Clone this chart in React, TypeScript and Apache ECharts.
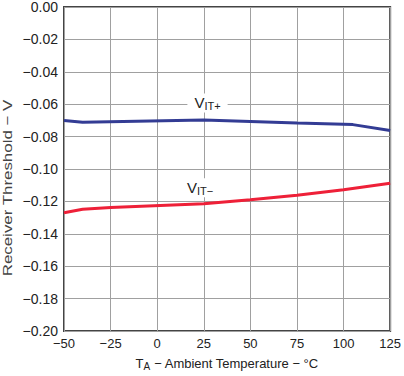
import React, { useEffect, useRef } from "react";
import * as echarts from "echarts";

const temps = [-50, -40, 25, 75, 105, 125];
const vitPlus = [-0.07, -0.0712, -0.0698, -0.0716, -0.0726, -0.0762];
const tempsMinus = [-50, -40, -25, 25, 50, 75, 100, 125];
const vitMinus = [-0.127, -0.1248, -0.1238, -0.1215, -0.119, -0.1162, -0.1128, -0.1088];
const xTicks = [-50, -25, 0, 25, 50, 75, 100, 125];
const yTicks = [0, -0.02, -0.04, -0.06, -0.08, -0.1, -0.12, -0.14, -0.16, -0.18, -0.2];
const yTitle = "Receiver Threshold \u2212 V";

const FONT = "Liberation Sans, Arial, sans-serif";

const fmtY = (v: number) => (Math.abs(v) < 1e-9 ? "0.00" : "\u2212" + Math.abs(v).toFixed(2));
const fmtX = (v: number) => (v < 0 ? "\u2212" + Math.abs(v) : String(v));

export default function App() {
  const ref = useRef<HTMLDivElement>(null);
  useEffect(() => {
    if (!ref.current) return;
    const chart = echarts.init(ref.current, null, { renderer: "svg" });
    const labelRich = {
      v: { fontSize: 15, fontFamily: FONT, color: "#222" },
      s: { fontSize: 11, fontFamily: FONT, color: "#222", padding: [6, 0, 0, 0] },
    };
    chart.setOption({
      animation: false,
      backgroundColor: "#fff",
      grid: { left: 64, right: 10, top: 5, bottom: 43, show: true, borderColor: "#444", borderWidth: 2, backgroundColor: "transparent" },
      graphic: [
        {
          type: "text",
          x: 7,
          y: 188,
          rotation: Math.PI / 2,
          scaleX: 1.3,
          style: {
            text: yTitle,
            fontSize: 13,
            fontFamily: FONT,
            fill: "#444",
            align: "center",
            verticalAlign: "middle",
          },
        },
      ],
      xAxis: {
        type: "value",
        min: xTicks[0],
        max: xTicks[xTicks.length - 1],
        interval: 25,
        axisLine: { show: false },
        axisTick: { show: false },
        splitLine: { show: true, lineStyle: { color: "#a0a0a0", width: 1 } },
        axisLabel: { formatter: fmtX, fontSize: 13, fontFamily: FONT, color: "#222", margin: 6 },
        name: "{t|T}{a|A}{t| \u2212 Ambient Temperature \u2212 °C}",
        nameLocation: "middle",
        nameGap: 25,
        nameTextStyle: {
          rich: {
            t: { fontSize: 13, fontFamily: FONT, color: "#222" },
            a: { fontSize: 10, fontFamily: FONT, color: "#222", padding: [5, 0, 0, 0] },
          },
        },
      },
      yAxis: {
        type: "value",
        min: yTicks[yTicks.length - 1],
        max: yTicks[0],
        interval: 0.02,
        axisLine: { show: false },
        axisTick: { show: false },
        splitLine: { show: true, lineStyle: { color: "#a0a0a0", width: 1 } },
        axisLabel: { formatter: fmtY, fontSize: 14, fontFamily: FONT, color: "#222", margin: 6 },
      },
      series: [
        {
          type: "line",
          data: temps.map((t, i) => [t, vitPlus[i]]),
          symbol: "none",
          lineStyle: { color: "#333c94", width: 3 },
          markPoint: {
            symbol: "circle",
            symbolSize: 0,
            data: [{ coord: [27, -0.0592] }],
            label: {
              show: true,
              position: "inside",
              formatter: "{v|V}{s|IT+}",
              backgroundColor: "#fff",
              padding: [1, 7],
              rich: labelRich,
            },
          },
        },
        {
          type: "line",
          data: tempsMinus.map((t, i) => [t, vitMinus[i]]),
          symbol: "none",
          lineStyle: { color: "#ee2038", width: 3 },
          markPoint: {
            symbol: "circle",
            symbolSize: 0,
            data: [{ coord: [23, -0.1115] }],
            label: {
              show: true,
              position: "inside",
              formatter: "{v|V}{s|IT\u2212}",
              backgroundColor: "#fff",
              padding: [1, 7],
              rich: labelRich,
            },
          },
        },
      ],
    });
    return () => chart.dispose();
  }, []);
  return <div ref={ref} style={{ width: 404, height: 376, position: "absolute", left: 0, top: 0 }} />;
}
